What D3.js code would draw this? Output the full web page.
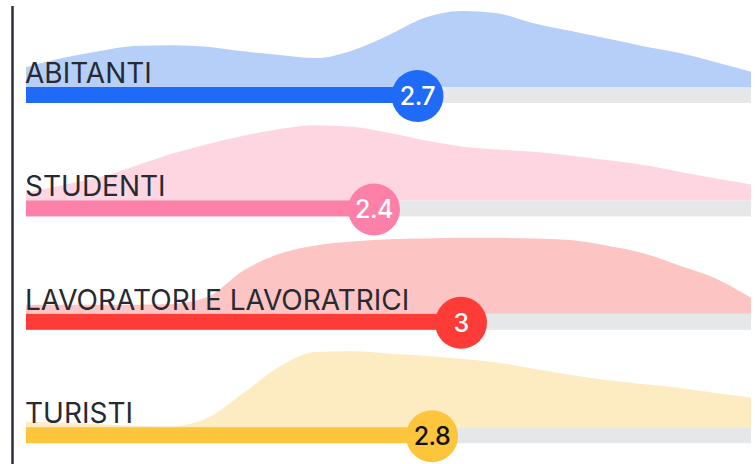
<!DOCTYPE html>
<html><head><meta charset="utf-8">
<script src="https://cdn.jsdelivr.net/npm/d3@7"></script>
<style>
html,body{margin:0;padding:0;background:#fff;}
svg{display:block;}
</style></head>
<body>
<svg id="chart" width="755" height="464"></svg>
<script>
// ---- data ----
const categories = ["ABITANTI", "STUDENTI", "LAVORATORI E LAVORATRICI", "TURISTI"];
const values = [2.7, 2.4, 3, 2.8];
const valueLabels = ["2.7", "2.4", "3", "2.8"];
// density sample points (score scale 0..5) and normalized densities per category
const densityX = [0,0.25,0.5,0.75,1,1.25,1.5,1.75,2,2.25,2.5,2.75,3,3.25,3.5,3.75,4,4.25,4.5,4.75,5];
const densityAbitanti   = [0.26,0.38,0.47,0.54,0.55,0.53,0.47,0.42,0.38,0.48,0.68,0.91,1.0,0.97,0.84,0.74,0.64,0.54,0.45,0.33,0.2];
const densityStudenti   = [0.1,0.2,0.3,0.45,0.61,0.74,0.85,0.94,0.99,0.97,0.89,0.79,0.71,0.67,0.64,0.59,0.53,0.47,0.38,0.29,0.21];
const densityLavoratori = [0.12,0.12,0.12,0.12,0.13,0.22,0.57,0.79,0.9,0.95,0.98,0.99,1.0,1.0,0.99,0.97,0.9,0.8,0.64,0.47,0.21];
const densityTuristi    = [0.07,0.06,0.04,0.02,0.01,0.12,0.45,0.8,0.99,1.0,0.97,0.94,0.9,0.85,0.77,0.69,0.62,0.57,0.52,0.45,0.39];
const densities = [densityAbitanti, densityStudenti, densityLavoratori, densityTuristi];

// ---- styles ----
const barColors  = ["#1f6bf7", "#fd80a8", "#fd3c37", "#fdc53c"];
const areaColors = ["#b6cff8", "#fdd6e2", "#fcc4c2", "#fdebc2"];
const textColors = ["#ffffff", "#ffffff", "#ffffff", "#111111"];

const svg = d3.select("#chart");
const x = d3.scaleLinear().domain([0, 5]).range([26, 751]);
const y = d3.scaleLinear().domain([0, 1]).range([0, 76]);
const rowTop0 = 87, rowStep = 113.4, barH = 16, r = 26;

// vertical axis line
svg.append("line").attr("x1", 12.5).attr("x2", 12.5).attr("y1", 6).attr("y2", 464)
  .attr("stroke", "#2b2f38").attr("stroke-width", 2.5);

const rows = svg.selectAll("g.row").data(categories).join("g").attr("class","row")
  .attr("transform", (d,i) => `translate(0,${rowTop0 + i*rowStep})`);

// areas
rows.append("path")
  .attr("d", (d,i) => d3.area()
      .x((p,j) => x(densityX[j]))
      .y0(0)
      .y1(p => -y(p))
      .curve(d3.curveMonotoneX)(densities[i]))
  .attr("fill", (d,i) => areaColors[i]);

// track
rows.append("rect").attr("x", x(0)).attr("y", 0).attr("width", x(5) - x(0)).attr("height", barH)
  .attr("fill", "#e6e7e9");
// value bar
rows.append("rect").attr("x", x(0)).attr("y", 0).attr("width", (d,i) => x(values[i]) - x(0)).attr("height", barH)
  .attr("fill", (d,i) => barColors[i]);

// labels
rows.append("text").attr("x", 25).attr("y", -4)
  .attr("font-family", "Inter, 'Noto Sans', sans-serif").attr("font-size", 28)
  .attr("letter-spacing", 0)
  .attr("fill", "#272a31").text(d => d);

// circles
rows.append("circle").attr("cx", (d,i) => x(values[i])).attr("cy", barH/2 + 1).attr("r", r)
  .attr("fill", (d,i) => barColors[i]);
rows.append("text").attr("x", (d,i) => x(values[i])).attr("y", barH/2 + 1)
  .attr("text-anchor", "middle").attr("dy", "0.36em")
  .attr("font-family", "Inter, 'Noto Sans', sans-serif").attr("font-size", 25)
  .attr("font-weight", 500).attr("letter-spacing", -0.5)
  .attr("fill", (d,i) => textColors[i]).text((d,i) => valueLabels[i]);
</script>
</body></html>
